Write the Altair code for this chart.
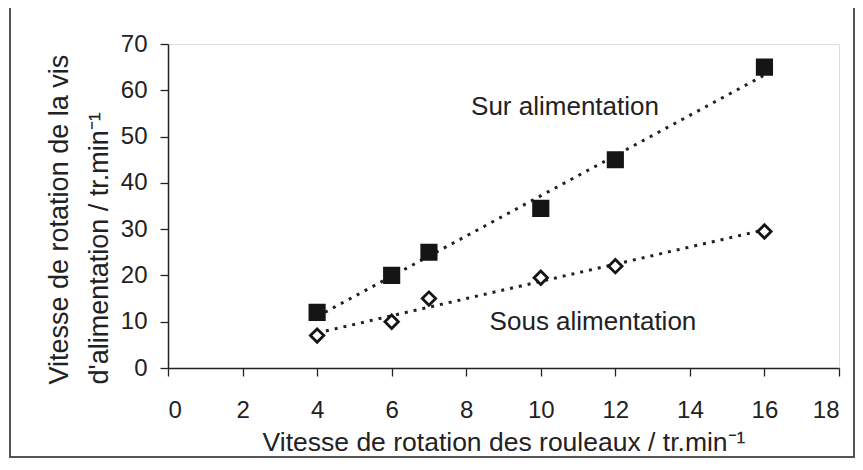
import altair as alt
import pandas as pd

# Data
vitesse_rouleaux = [4, 6, 7, 10, 12, 16]
sur_alimentation = [12, 20, 25, 34.5, 45, 65]
sous_alimentation = [7, 10, 15, 19.5, 22, 29.5]

label_text = ["Sur alimentation", "Sous alimentation"]
label_x = [10.65, 11.4]
label_y = [56.3, 10.0]

x_ticks = list(range(0, 19))
y_ticks = list(range(0, 71, 10))

FONT = "Liberation Sans"

df = pd.DataFrame({
    "x": vitesse_rouleaux * 2,
    "y": sur_alimentation + sous_alimentation,
    "serie": ["Sur"] * len(vitesse_rouleaux) + ["Sous"] * len(vitesse_rouleaux),
})
labels = pd.DataFrame({"text": label_text, "x": label_x, "y": label_y})

W, H = 671, 324

x_scale = alt.Scale(domain=[0, 18], nice=False, zero=False)
y_scale = alt.Scale(domain=[0, 70], nice=False)

x_axis = alt.Axis(
    values=x_ticks,
    labelExpr="datum.value % 2 == 0 ? datum.label : ''",
    title="Vitesse de rotation des rouleaux / tr.min⁻¹",
    titleFontSize=26.5, titleFontWeight="normal", titleFont=FONT, titleColor="#222",
    titleY=82, titleBaseline="alphabetic",
    labelFontSize=24, labelFont=FONT, labelColor="#222",
    labelPadding=22, tickSize=8, tickColor="#222", domainColor="#222",
    domainWidth=1.5, tickWidth=1.3, grid=False,
)
y_axis = alt.Axis(
    values=y_ticks,
    title=["Vitesse de rotation de la vis", "d'alimentation / tr.min⁻¹"],
    titleFontSize=27, titleFontWeight="normal", titleFont=FONT, titleColor="#222",
    titleAngle=270, titleAlign="left", titleBaseline="alphabetic",
    titleX=-101, titleY=340, titleLineHeight=40,
    labelFontSize=24, labelFont=FONT, labelColor="#222",
    labelPadding=13, tickSize=8, tickColor="#222", domainColor="#222",
    domainWidth=1.5, tickWidth=1.3, grid=False,
)

base = alt.Chart(df)

# decorative outer frame of the scanned figure
frame = alt.Chart(labels).mark_rect(
    fill=None, stroke="#555", strokeWidth=2
).encode(
    x=alt.value(-158), x2=alt.value(686), y=alt.value(-38), y2=alt.value(413)
).transform_filter("datum.x < 11")

trend = base.transform_regression(
    "x", "y", groupby=["serie"], method="linear"
).mark_line(
    color="#222", strokeWidth=3, strokeDash=[3, 6], strokeCap="butt"
).encode(
    x=alt.X("x:Q", scale=x_scale, axis=x_axis),
    y=alt.Y("y:Q", scale=y_scale, axis=y_axis),
    detail="serie:N",
)

sur_pts = base.transform_filter(alt.datum.serie == "Sur").mark_point(
    shape="square", filled=True, fill="#151515", stroke="#151515", size=230, opacity=1
).encode(x="x:Q", y="y:Q")

sous_pts = base.transform_filter(alt.datum.serie == "Sous").mark_point(
    shape="diamond", filled=True, fill="white", stroke="#151515", strokeWidth=2.8,
    size=180, opacity=1
).encode(x="x:Q", y="y:Q")

texts = alt.Chart(labels).mark_text(
    font=FONT, fontSize=26, color="#222", align="center", baseline="middle"
).encode(x="x:Q", y="y:Q", text="text:N")

chart = alt.layer(frame, trend, sur_pts, sous_pts, texts).properties(
    width=W, height=H,
    autosize=alt.AutoSizeParams(type="none"),
    padding={"left": 160, "top": 36, "right": 16, "bottom": 90},
).configure_view(
    stroke="#222", strokeWidth=1.5
).configure(background="white")

chart.save("out.html", embed_options={"renderer": "svg", "actions": False})
